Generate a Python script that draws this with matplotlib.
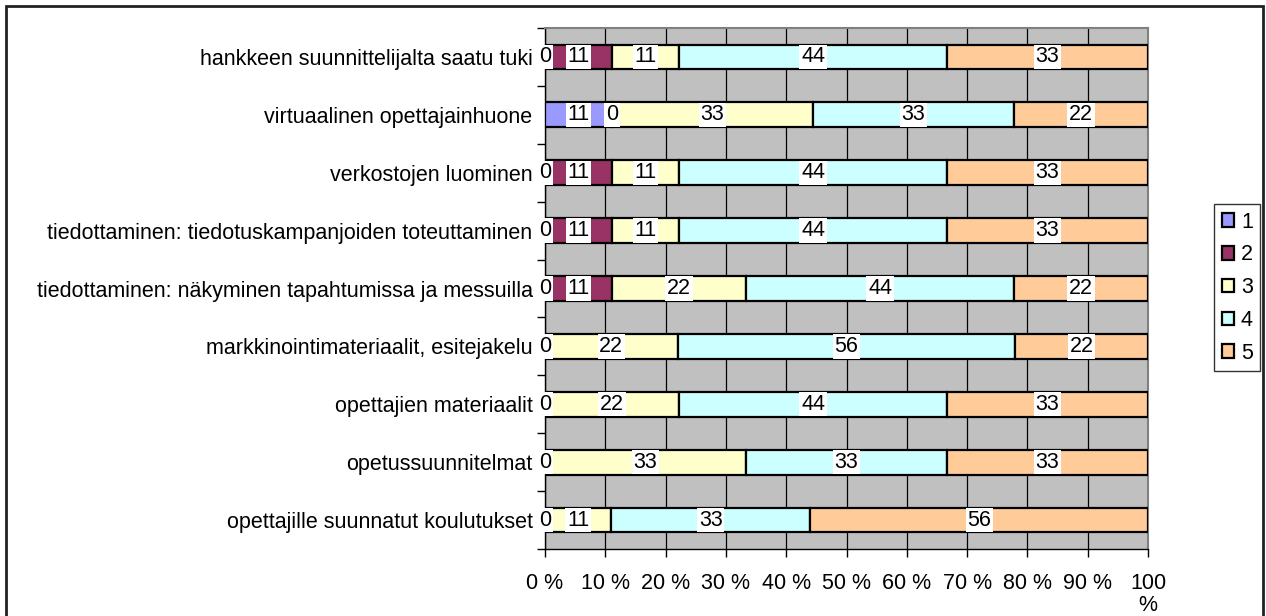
import matplotlib.pyplot as plt
import matplotlib.patches as mpatches
import numpy as np

plt.rcParams['font.family'] = ['Liberation Sans', 'DejaVu Sans']

categories = [
    'hankkeen suunnittelijalta saatu tuki',
    'virtuaalinen opettajainhuone',
    'verkostojen luominen',
    'tiedottaminen: tiedotuskampanjoiden toteuttaminen',
    'tiedottaminen: näkyminen tapahtumissa ja messuilla',
    'markkinointimateriaalit, esitejakelu',
    'opettajien materiaalit',
    'opetussuunnitelmat',
    'opettajille suunnatut koulutukset',
]
series_names = ['1', '2', '3', '4', '5']
# None = no answer in that class (no label drawn)
s1 = [0, 11, 0, 0, 0, 0, 0, 0, 0]
s2 = [11, 0, 11, 11, 11, None, None, None, None]
s3 = [11, 33, 11, 11, 22, 22, 22, 33, 11]
s4 = [44, 33, 44, 44, 44, 56, 44, 33, 33]
s5 = [33, 22, 33, 33, 22, 22, 33, 33, 56]
colors = ['#9999FF', '#993366', '#FFFFCC', '#CCFFFF', '#FFCC99']
tick_labels = ['0 %', '10 %', '20 %', '30 %', '40 %', '50 %',
               '60 %', '70 %', '80 %', '90 %', '100\n%']

FS = 15.5

series = [s1, s2, s3, s4, s5]
vals = np.array([[np.nan if v is None else v for v in s] for s in series], dtype=float)
totals = np.nansum(vals, axis=0)
shares = np.nan_to_num(vals) / totals * 100

fig = plt.figure(figsize=(12.66, 6.16), dpi=100)
ax = fig.add_axes([0.4305, 0.1088, 0.4763, 0.8457])
ax.set_facecolor('#C0C0C0')

y = np.arange(len(categories))
left = np.zeros(len(categories))
for i in range(len(series)):
    ax.barh(y, shares[i], left=left, height=0.43, color=colors[i],
            edgecolor='black', linewidth=1.6, zorder=3)
    for j in range(len(categories)):
        if np.isnan(vals[i, j]):
            continue
        ax.text(left[j] + shares[i, j] / 2, y[j], '%d' % vals[i, j],
                ha='center', va='center', fontsize=FS, zorder=5,
                bbox=dict(facecolor='white', edgecolor='none', pad=1.2))
    left += shares[i]

ax.set_xlim(0, 100)
ax.set_ylim(len(categories) - 0.5, -0.5)
ax.set_xticks(np.arange(0, 101, 10))
ax.set_xticklabels(tick_labels, fontsize=FS, linespacing=1.1)
ax.set_yticks(y)
ax.set_yticklabels(categories, fontsize=FS)
ax.set_yticks(np.arange(-0.5, len(categories)), minor=True)
ax.tick_params(axis='y', which='major', length=0, pad=9)
ax.tick_params(axis='y', which='minor', direction='out', length=6, width=1)
ax.tick_params(axis='x', direction='out', length=6, width=1, pad=11)
ax.xaxis.grid(True, color='black', linewidth=0.9, zorder=1)
ax.set_axisbelow(True)

for side in ['top', 'right']:
    ax.spines[side].set_color('#808080')
    ax.spines[side].set_linewidth(1.5)
for side in ['left', 'bottom']:
    ax.spines[side].set_color('black')
    ax.spines[side].set_linewidth(1)

handles = [mpatches.Patch(facecolor=c, edgecolor='black', linewidth=1.6, label=n)
           for c, n in zip(colors, series_names)]
fig.legend(handles=handles, loc='upper left', bbox_to_anchor=(1214 / 1266, 1 - 204 / 616),
           fontsize=FS, frameon=True, fancybox=False, edgecolor='black',
           handlelength=0.6, handleheight=0.6, handletextpad=0.3,
           borderpad=0.35, labelspacing=0.55, borderaxespad=0)

# chart area frame
fig.patches.append(mpatches.Rectangle((6 / 1266, -4 / 616), 1257 / 1266, 614 / 616,
                                      transform=fig.transFigure, fill=False,
                                      edgecolor='#222222', linewidth=2))

fig.savefig('out.png', dpi=100)
